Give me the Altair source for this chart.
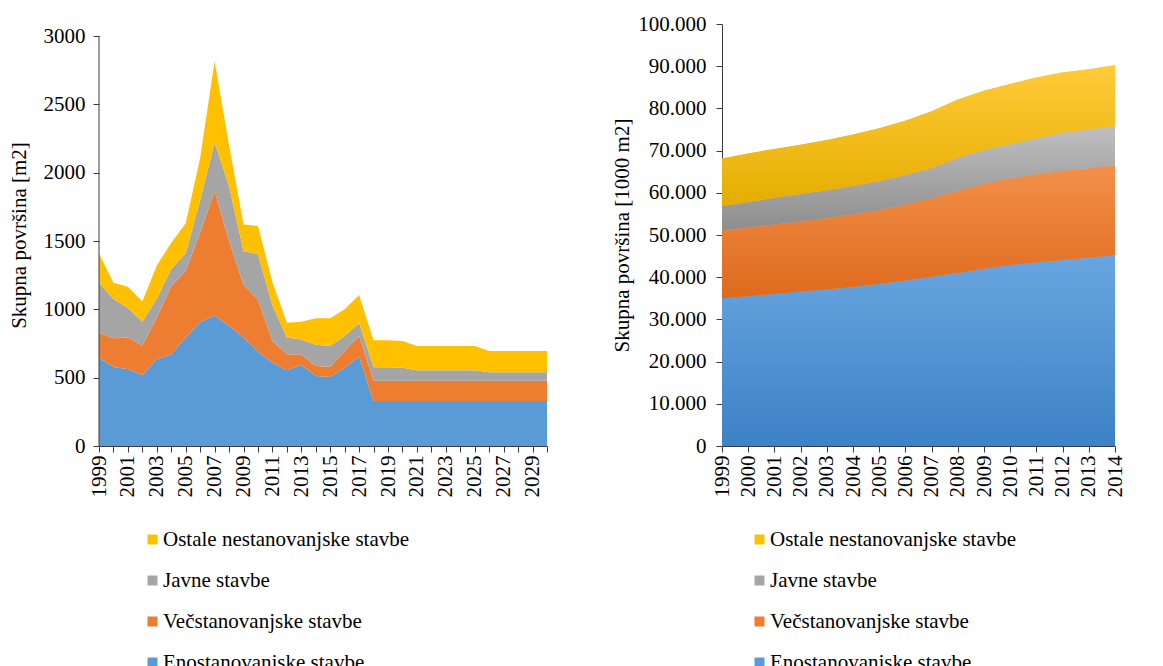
import altair as alt
import pandas as pd

FONT = "Liberation Serif"
AXC = "#3a3a3a"

series_names = ["Ostale nestanovanjske stavbe", "Javne stavbe", "Večstanovanjske stavbe", "Enostanovanjske stavbe"]
series_colors = ["#ffc000", "#a5a5a5", "#ed7d31", "#5b9bd5"]
stack_rank = {"Enostanovanjske stavbe": 0, "Večstanovanjske stavbe": 1, "Javne stavbe": 2, "Ostale nestanovanjske stavbe": 3}

# ---- left panel (m2), 1999-2030
years_left = list(range(1999, 2031))
eno_left = [645, 578, 561, 520, 634, 671, 793, 905, 955, 878, 793, 690, 610, 555, 593, 512, 505, 573, 655,
            329, 329, 329, 329, 329, 329, 329, 329, 329, 329, 329, 329, 329]
vec_left = [184, 210, 232, 215, 306, 500, 487, 655, 911, 622, 387, 380, 160, 116, 77, 73, 75, 122, 150,
            149, 149, 149, 149, 149, 149, 149, 149, 149, 149, 149, 149, 149]
jav_left = [366, 287, 217, 175, 140, 124, 130, 240, 354, 400, 247, 333, 260, 122, 110, 155, 152, 110, 95,
            98, 98, 95, 76, 76, 76, 76, 76, 62, 62, 62, 62, 62]
ost_left = [215, 120, 155, 148, 240, 193, 220, 310, 595, 300, 193, 207, 170, 109, 130, 195, 203, 195, 205,
            197, 197, 195, 178, 178, 178, 178, 178, 155, 155, 155, 155, 155]

# ---- right panel (1000 m2), 1999-2014
years_right = list(range(1999, 2015))
eno_right = [35000, 35500, 36000, 36600, 37100, 37700, 38400, 39200, 40100, 41000, 42000, 42900, 43500, 44100, 44600, 45200]
vec_right = [16100, 16300, 16500, 16600, 16900, 17200, 17500, 18000, 18600, 19500, 20200, 20500, 20900, 21100, 21200, 21300]
jav_right = [5700, 6000, 6300, 6500, 6600, 6700, 6900, 7000, 7200, 7800, 8000, 8100, 8500, 9100, 9200, 9300]
ost_right = [11300, 11500, 11600, 11700, 11900, 12200, 12500, 12900, 13400, 13800, 14000, 14300, 14400, 14200, 14300, 14400]

left_ticks = [0, 500, 1000, 1500, 2000, 2500, 3000]
right_ticks = [0, 10000, 20000, 30000, 40000, 50000, 60000, 70000, 80000, 90000, 100000]


def to_long(years, eno, vec, jav, ost):
    rows = []
    for name, vals in [("Enostanovanjske stavbe", eno), ("Večstanovanjske stavbe", vec),
                       ("Javne stavbe", jav), ("Ostale nestanovanjske stavbe", ost)]:
        for y, v in zip(years, vals):
            rows.append({"year": y, "series": name, "value": v, "k": stack_rank[name]})
    return pd.DataFrame(rows)


df_left = to_long(years_left, eno_left, vec_left, jav_left, ost_left)
df_right = to_long(years_right, eno_right, vec_right, jav_right, ost_right)


def legend(x, y):
    return alt.Legend(title=None, orient="none", legendX=x, legendY=y, symbolType="square",
                      symbolSize=100, symbolStrokeWidth=0, labelFont=FONT, labelFontSize=21,
                      labelColor="#000", rowPadding=19, labelLimit=400, labelOffset=0)


color_left = alt.Color("series:N", scale=alt.Scale(domain=series_names, range=series_colors),
                       legend=legend(43, 505))
color_right = alt.Color("series:N", scale=alt.Scale(domain=series_names, range=series_colors),
                        legend=legend(27, 505))

# left panel
LH = 422
left_top = 3000 * LH / 410
x_left = alt.X("year:Q", scale=alt.Scale(domain=[1999, 2030], nice=False, zero=False),
               axis=alt.Axis(values=years_left, format="d", labelAngle=270, title=None,
                             labelExpr="datum.value % 2 == 1 ? datum.label : ''",
                             tickSize=6, labelPadding=3))
y_axis_left = alt.Axis(values=left_ticks, format="d", domain=False, title="Skupna površina  [m2]",
                       tickSize=6, labelPadding=8, titlePadding=14)
y_left = alt.Y("value:Q", stack="zero", scale=alt.Scale(domain=[0, left_top], nice=False), axis=y_axis_left)

left_area = alt.Chart(df_left).mark_area(line=False, opacity=1).encode(
    x=x_left, y=y_left, color=color_left, order=alt.Order("k:Q", sort="ascending"))
left_axisline = alt.Chart(pd.DataFrame({"a": [0]})).mark_rule(color=AXC, strokeWidth=1).encode(
    x=alt.value(0), y=alt.datum(0), y2=alt.datum(3000))
left = alt.layer(left_area, left_axisline).properties(width=448, height=LH)

# right panel
x_right = alt.X("year:Q", scale=alt.Scale(domain=[1999, 2014], nice=False, zero=False),
                axis=alt.Axis(values=years_right, format="d", labelAngle=270, title=None,
                              tickSize=6, labelPadding=3))
y_axis_right = alt.Axis(values=right_ticks, title="Skupna površina [1000 m2]",
                        labelExpr="replace(format(datum.value, ','), ',', '.')",
                        tickSize=6, labelPadding=10, titlePadding=5)
y_scale_right = alt.Scale(domain=[0, 100000], nice=False)

right_base = alt.Chart(df_right).mark_area(line=False, opacity=1).encode(
    x=x_right, y=alt.Y("value:Q", stack="zero", scale=y_scale_right, axis=y_axis_right),
    color=color_right, order=alt.Order("k:Q", sort="ascending"))

gradients = {
    "Enostanovanjske stavbe": ("#68a6e0", "#3d82c6"),
    "Večstanovanjske stavbe": ("#f39049", "#de6a1d"),
    "Javne stavbe": ("#bfbfbf", "#8d8d8d"),
    "Ostale nestanovanjske stavbe": ("#ffcb3a", "#e5ad00"),
}
overlays = []
for name, (c_top, c_bot) in gradients.items():
    g = alt.Gradient(gradient="linear", x1=0, x2=0, y1=0, y2=1,
                     stops=[alt.GradientStop(color=c_top, offset=0), alt.GradientStop(color=c_bot, offset=1)])
    ov = alt.Chart(df_right).transform_stack(
        stack="value", groupby=["year"], as_=["y0", "y1"], sort=[alt.SortField("k", order="ascending")]
    ).transform_filter(alt.datum.series == name).mark_area(line=False, fill=g, opacity=1).encode(
        x=x_right, y=alt.Y("y1:Q", scale=y_scale_right, axis=y_axis_right), y2="y0:Q")
    overlays.append(ov)

right = alt.layer(right_base, *overlays).properties(width=393, height=422)

chart = alt.hconcat(left, right, spacing=63).resolve_scale(color="independent").resolve_legend(
    color="independent"
).properties(
    padding={"left": 0, "top": 5, "right": 5, "bottom": 0}
).configure_axis(
    labelFont=FONT, titleFont=FONT, labelFontSize=21, titleFontSize=21, labelColor="#000",
    titleColor="#000", titleFontWeight="normal", domainColor=AXC, tickColor=AXC, grid=False
).configure_view(stroke=None)

chart.save("out.html", embed_options={"renderer": "svg", "actions": False})
